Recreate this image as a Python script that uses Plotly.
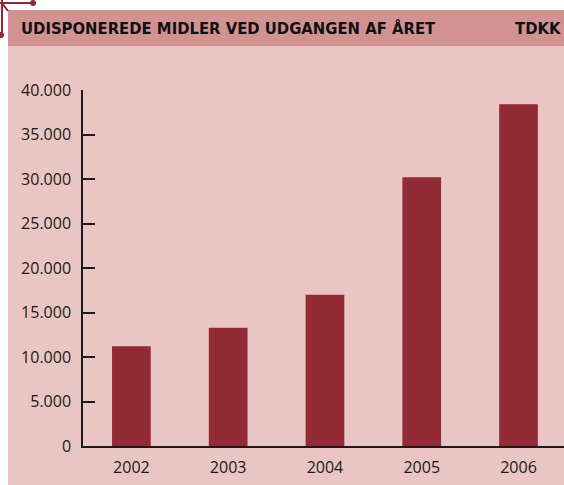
import plotly.graph_objects as go

years = ["2002", "2003", "2004", "2005", "2006"]
values = [11200, 13300, 17000, 30200, 38400]
y_ticks = [0, 5000, 10000, 15000, 20000, 25000, 30000, 35000, 40000]
title_text = "UDISPONEREDE MIDLER VED UDGANGEN AF ÅRET"
unit_text = "TDKK"

BAR = "#932B37"
HEADER = "#D29292"
PANEL = "#E9C6C3"
DEC = "#8E2A36"

W, H = 564, 485
L, R_PX, T, B_PX = 83, 564, 90, 446
pw, ph = R_PX - L, B_PX - T

def px(x):
    return (x - L) / pw

def py(y):
    return (B_PX - y) / ph

fig = go.Figure(go.Bar(x=years, y=values, marker_color=BAR, width=0.4,
                       marker_line_width=0, hoverinfo="skip"))

shapes = [
    dict(type="rect", xref="paper", yref="paper", x0=px(8), x1=px(600), y0=py(46), y1=py(500),
         fillcolor=PANEL, line_width=0, layer="below"),
    dict(type="rect", xref="paper", yref="paper", x0=px(8), x1=px(600), y0=py(10), y1=py(46),
         fillcolor=HEADER, line_width=0, layer="below"),
    dict(type="line", xref="paper", yref="paper", x0=px(0), x1=px(33), y0=py(3), y1=py(3),
         line=dict(color=DEC, width=2)),
    dict(type="line", xref="paper", yref="paper", x0=px(2), x1=px(2), y0=py(0), y1=py(35),
         line=dict(color=DEC, width=2)),
    dict(type="line", xref="paper", yref="paper", x0=px(2), x1=px(8), y0=py(3), y1=py(11),
         line=dict(color=DEC, width=2)),
    dict(type="circle", xref="paper", yref="paper", x0=px(30), x1=px(36), y0=py(0), y1=py(6),
         fillcolor=DEC, line_width=0),
    dict(type="circle", xref="paper", yref="paper", x0=px(-2), x1=px(4), y0=py(32), y1=py(38),
         fillcolor=DEC, line_width=0),
]

annotations = [
    dict(text=f"<b>{title_text}</b>", xref="paper", yref="paper", x=px(19), y=py(29),
         xanchor="left", yanchor="middle", showarrow=False,
         font=dict(family="DejaVu Sans Condensed", size=16.5, color="#111111")),
    dict(text=f"<b>{unit_text}</b>", xref="paper", yref="paper", x=px(563), y=py(29),
         xanchor="right", yanchor="middle", showarrow=False,
         font=dict(family="DejaVu Sans Condensed", size=16.5, color="#111111")),
]

fig.update_layout(
    width=W, height=H,
    margin=dict(l=L, r=W - R_PX, t=T, b=H - B_PX, pad=0),
    paper_bgcolor="white", plot_bgcolor="rgba(0,0,0,0)",
    separators=",.",
    showlegend=False,
    shapes=shapes, annotations=annotations,
    font=dict(family="Open Sans", size=16, color="#1a1a1a"),
)
fig.update_xaxes(range=[-0.5, 4.47], showline=True, linecolor="#1a1a1a", linewidth=1.5,
                 ticks="", showgrid=False, zeroline=False, fixedrange=True,
                 ticklabelstandoff=6,
                 tickfont=dict(family="Open Sans", size=16, color="#1a1a1a"))
fig.update_yaxes(range=[0, 40000], tickvals=y_ticks, tickformat=",d",
                 showline=True, linecolor="#1a1a1a", linewidth=1.5,
                 ticks="inside", ticklen=12, tickwidth=1.5, tickcolor="#1a1a1a",
                 showgrid=False, zeroline=False, fixedrange=True,
                 ticklabelstandoff=7,
                 tickfont=dict(family="Open Sans", size=16, color="#1a1a1a"))

fig.write_html("out.html", config={"displayModeBar": False},
               post_script="document.body.style.margin='0';document.body.style.padding='0';")
